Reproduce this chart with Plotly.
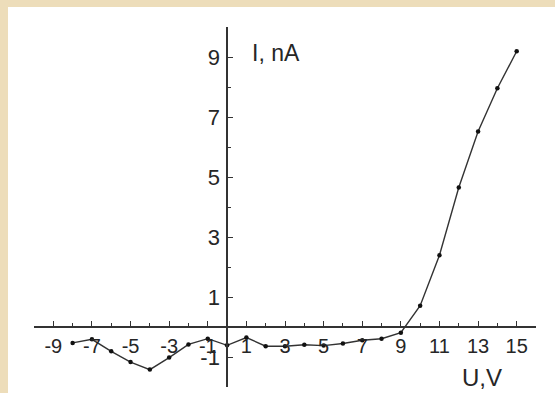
import plotly.graph_objects as go

# Data
U_volts = [-8, -7, -6, -5, -4, -3, -2, -1, 0, 1, 2, 3, 4, 5, 6, 7, 8, 9, 10, 11, 12, 13, 14, 15]
I_nA = [-0.53, -0.41, -0.81, -1.17, -1.42, -1.02, -0.58, -0.39, -0.61, -0.35, -0.64, -0.64,
        -0.59, -0.62, -0.55, -0.44, -0.39, -0.19, 0.71, 2.39, 4.65, 6.52, 7.96, 9.19]

x_range = [-10, 16]
y_range = [-2, 10]
x_tickvals = [-9, -7, -5, -3, -1, 1, 3, 5, 7, 9, 11, 13, 15]
x_ticktext = ["-9", "-7", "-5", "-3", "-1", "1", "3", "5", "7", "9", "11", "13", "15"]
y_tickvals = [-1, 1, 3, 5, 7, 9]
y_ticktext = ["-1", "1", "3", "5", "7", "9"]
x_title = "U,V"
y_title = "I, nA"

ink = "#262626"
axis_col = "#333333"
font_family = "Liberation Sans, Arial, sans-serif"

fig = go.Figure()
fig.add_trace(go.Scatter(
    x=U_volts, y=I_nA, mode="lines+markers",
    line=dict(color="#333333", width=1.4),
    marker=dict(color="#111111", size=4.5),
    hoverinfo="skip", showlegend=False,
))

W, H = 555, 393
ml, mr, mt, mb = 34, 19, 27, 6
pw, ph = W - ml - mr, H - mt - mb

minor = dict(dtick=1, tick0=0, ticks="inside", ticklen=3, tickwidth=1.3, tickcolor=axis_col)

fig.update_layout(
    width=W, height=H,
    margin=dict(l=ml, r=mr, t=mt, b=mb, pad=0),
    paper_bgcolor="#EDDDBA",
    plot_bgcolor="white",
    font=dict(family=font_family, color=ink, size=20),
    xaxis=dict(
        range=x_range, anchor="free",
        position=(0 - y_range[0]) / (y_range[1] - y_range[0]),
        showgrid=False, zeroline=False,
        showline=True, linecolor=axis_col, linewidth=1.5,
        tickmode="array", tickvals=x_tickvals, ticktext=x_ticktext,
        ticks="inside", ticklen=5, tickwidth=1.3, tickcolor=axis_col,
        minor=minor,
        tickfont=dict(size=20, color=ink, family=font_family),
        ticklabelstandoff=1,
    ),
    yaxis=dict(
        range=y_range, anchor="free",
        position=(0 - x_range[0]) / (x_range[1] - x_range[0]),
        showgrid=False, zeroline=False,
        showline=True, linecolor=axis_col, linewidth=1.5,
        tickmode="array", tickvals=y_tickvals, ticktext=y_ticktext,
        ticks="inside", ticklen=5, tickwidth=1.3, tickcolor=axis_col,
        minor=minor,
        tickfont=dict(size=22, color=ink, family=font_family),
        ticklabelstandoff=2,
    ),
    shapes=[dict(
        type="rect", xref="paper", yref="paper", layer="below",
        x0=(8 - ml) / pw, x1=(W + 10 - ml) / pw,
        y0=-(mb + 10) / ph, y1=(ph + mt - 7) / ph,
        fillcolor="white", line=dict(width=0),
    )],
    annotations=[
        dict(text=y_title, x=1.2, y=9.14, xref="x", yref="y", xanchor="left", yanchor="middle",
             showarrow=False, font=dict(size=23, color=ink, family=font_family)),
        dict(text=x_title, x=12.05, y=-1.68, xref="x", yref="y", xanchor="left", yanchor="middle",
             showarrow=False, font=dict(size=24, color=ink, family=font_family)),
    ],
)

fig.write_html("out.html")
